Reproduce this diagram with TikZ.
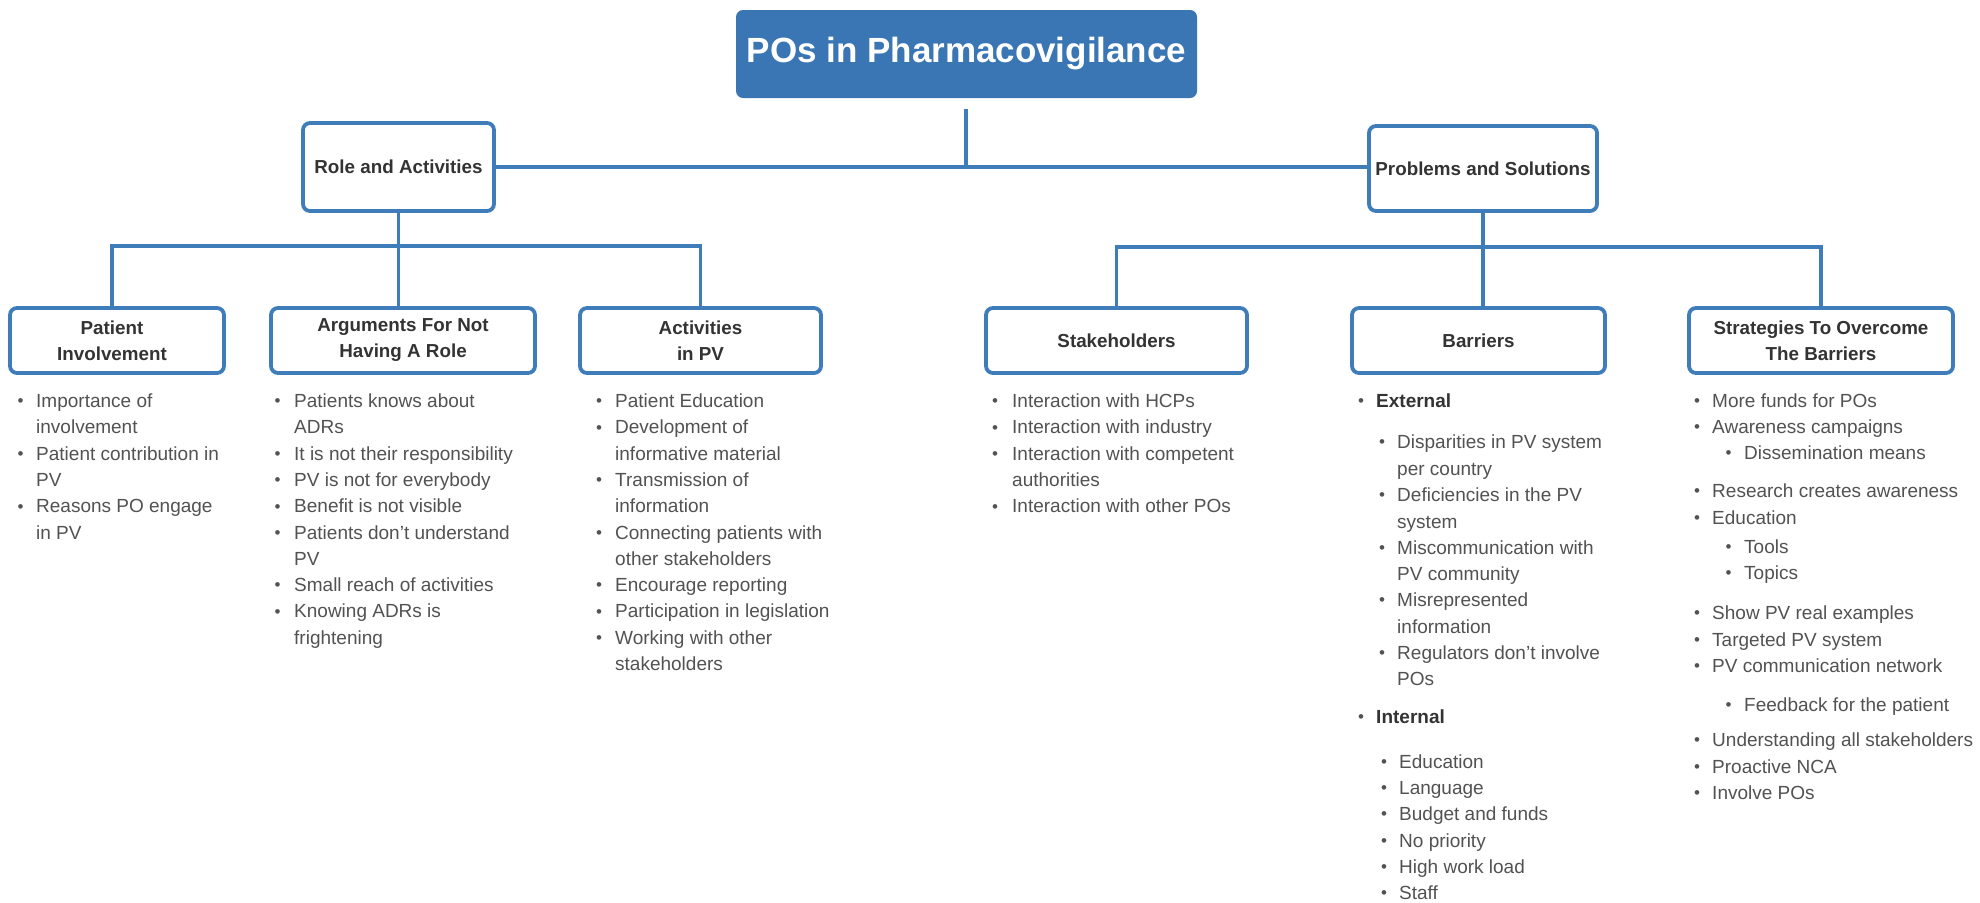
\documentclass[tikz,border=0pt]{standalone}
\usepackage{fontspec}
\setmainfont{Liberation Sans}
\definecolor{pvblue}{RGB}{63,124,186}
\definecolor{titleblue}{RGB}{58,118,180}
\definecolor{labelgray}{RGB}{51,51,51}
\definecolor{listgray}{RGB}{82,82,82}
\newcounter{lnum}
\newcommand\Bitem[4]{\stepcounter{lnum}%
  \node[bul] (b\arabic{lnum}) at (#1,#3+5.8) {\textbullet};%
  \node[lst] (t\arabic{lnum}) at (#2,#3+6.5) {#4};}
\newcommand\Cline[3]{\stepcounter{lnum}%
  \node[lst] (t\arabic{lnum}) at (#1,#2+6.5) {#3};}
\begin{document}
\begin{tikzpicture}[x=1pt,y=-1pt,
  boxA/.style={draw=pvblue, line width=3.8pt, rounded corners=7pt, fill=white,
    inner sep=0pt, align=center, text=labelgray,
    font=\fontsize{18.8}{26}\selectfont\bfseries},
  titlebox/.style={fill=titleblue, rounded corners=7pt, inner sep=0pt,
    text=white, font=\fontsize{35}{40}\selectfont\bfseries},
  conn/.style={draw=pvblue, line width=3.8pt, line cap=rect, line join=miter},
  lst/.style={anchor=base west, inner sep=0pt, text=listgray,
    font=\fontsize{19}{23}\selectfont},
  bul/.style={anchor=base, inner sep=0pt, text=listgray,
    font=\fontsize{17}{20}\selectfont}]
\useasboundingbox (0,0) rectangle (1980,902);
\fill[white] (0,0) rectangle (1980,902);

% main nodes
\node[titlebox, minimum width=461pt, minimum height=88pt] (title) at (966.5,54) {POs in Pharmacovigilance};
\node[boxA, minimum width=191pt, minimum height=88pt] (role) at (398.5,167) {Role and Activities};
\node[boxA, minimum width=228pt, minimum height=85pt] (prob) at (1483,168.5) {Problems and Solutions};

\node[boxA, minimum width=214pt, minimum height=65pt] (pi) at (117,340.5) {Patient\hspace*{10pt}\\Involvement\hspace*{10pt}};
\node[boxA, minimum width=264pt, minimum height=65pt] (args) at (403,340.5) {Arguments For Not\\Having A Role};
\node[boxA, minimum width=241pt, minimum height=65pt] (act) at (700.5,340.5) {Activities\\in PV};
\node[boxA, minimum width=261pt, minimum height=65pt] (stake) at (1116.5,340.5) {Stakeholders};
\node[boxA, minimum width=253pt, minimum height=65pt] (barr) at (1478.5,340.5) {Barriers};
\node[boxA, minimum width=264pt, minimum height=65pt] (strat) at (1821,340.5) {Strategies To Overcome\\The Barriers};

% connectors
\coordinate (stubtop) at (966,111);
\coordinate (lbus) at (0,246);
\coordinate (rbus) at (0,247);
\draw[conn] (role.east) -- (role.east -| prob.west);
\draw[conn] (stubtop) -- (stubtop |- role.east);
\draw[conn] (role.south) -- (role.south |- args.north);
\draw[conn] ([xshift=-5pt]pi.north) |- (act.north |- lbus) -- (act.north);
\draw[conn] (prob.south) -- (prob.south |- barr.north);
\draw[conn] (stake.north) |- (strat.north |- rbus) -- (strat.north);

% column 1
\Bitem{20.6}{36}{401}{Importance of}
\Cline{36}{427.3}{involvement}
\Bitem{20.6}{36}{453.6}{Patient contribution in}
\Cline{36}{479.9}{PV}
\Bitem{20.6}{36}{506.2}{Reasons PO engage}
\Cline{36}{532.5}{in PV}

% column 2
\Bitem{277.5}{294}{401}{Patients knows about}
\Cline{294}{427.3}{ADRs}
\Bitem{277.5}{294}{453.6}{It is not their responsibility}
\Bitem{277.5}{294}{479.9}{PV is not for everybody}
\Bitem{277.5}{294}{506.2}{Benefit is not visible}
\Bitem{277.5}{294}{532.5}{Patients don't understand}
\Cline{294}{558.8}{PV}
\Bitem{277.5}{294}{585.1}{Small reach of activities}
\Bitem{277.5}{294}{611.4}{Knowing ADRs is}
\Cline{294}{637.7}{frightening}

% column 3
\Bitem{599}{615}{401}{Patient Education}
\Bitem{599}{615}{427.3}{Development of}
\Cline{615}{453.6}{informative material}
\Bitem{599}{615}{479.9}{Transmission of}
\Cline{615}{506.2}{information}
\Bitem{599}{615}{532.5}{Connecting patients with}
\Cline{615}{558.8}{other stakeholders}
\Bitem{599}{615}{585.1}{Encourage reporting}
\Bitem{599}{615}{611.4}{Participation in legislation}
\Bitem{599}{615}{637.7}{Working with other}
\Cline{615}{664}{stakeholders}

% column 4
\Bitem{995}{1012}{401}{Interaction with HCPs}
\Bitem{995}{1012}{427.3}{Interaction with industry}
\Bitem{995}{1012}{453.6}{Interaction with competent}
\Cline{1012}{479.9}{authorities}
\Bitem{995}{1012}{506.2}{Interaction with other POs}

% column 5
\Bitem{1361}{1376}{401}{\color{labelgray}\bfseries External}
\Bitem{1382}{1397}{442}{Disparities in PV system}
\Cline{1397}{469}{per country}
\Bitem{1382}{1397}{495}{Deficiencies in the PV}
\Cline{1397}{522}{system}
\Bitem{1382}{1397}{548}{Miscommunication with}
\Cline{1397}{574}{PV community}
\Bitem{1382}{1397}{600}{Misrepresented}
\Cline{1397}{627}{information}
\Bitem{1382}{1397}{653}{Regulators don't involve}
\Cline{1397}{679}{POs}
\Bitem{1361}{1376}{717}{\color{labelgray}\bfseries Internal}
\Bitem{1384}{1399}{762}{Education}
\Bitem{1384}{1399}{788}{Language}
\Bitem{1384}{1399}{814}{Budget and funds}
\Bitem{1384}{1399}{841}{No priority}
\Bitem{1384}{1399}{867}{High work load}
\Bitem{1384}{1399}{893}{Staff}

% column 6
\Bitem{1697}{1712}{401}{More funds for POs}
\Bitem{1697}{1712}{427}{Awareness campaigns}
\Bitem{1728.5}{1744}{453}{Dissemination means}
\Bitem{1697}{1712}{491}{Research creates awareness}
\Bitem{1697}{1712}{518}{Education}
\Bitem{1728.5}{1744}{547}{Tools}
\Bitem{1728.5}{1744}{573}{Topics}
\Bitem{1697}{1712}{613}{Show PV real examples}
\Bitem{1697}{1712}{640}{Targeted PV system}
\Bitem{1697}{1712}{666}{PV communication network}
\Bitem{1728.5}{1744}{705}{Feedback for the patient}
\Bitem{1697}{1712}{740}{Understanding all stakeholders}
\Bitem{1697}{1712}{767}{Proactive NCA}
\Bitem{1697}{1712}{793}{Involve POs}
\end{tikzpicture}
\end{document}
